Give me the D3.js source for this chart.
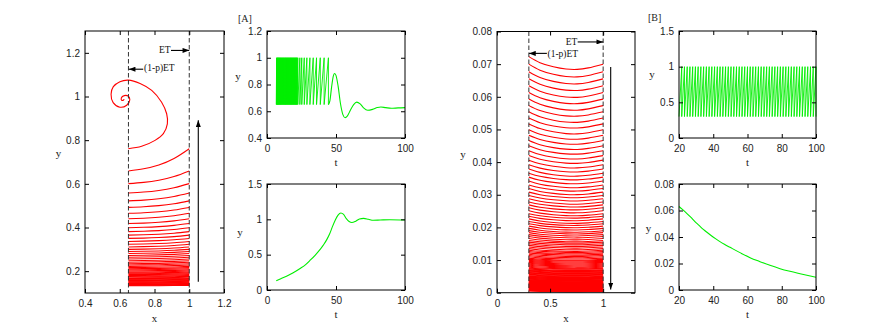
<!DOCTYPE html>
<html>
<head>
<meta charset="utf-8">
<script src="https://cdn.jsdelivr.net/npm/d3@7"></script>
<style>
  body { margin: 0; background: #fff; }
  svg { display: block; }
  .axis text { font-family: "Liberation Sans", Arial, sans-serif; font-size: 10px; fill: #222; }
  .axis line { stroke: #000; }
  .axis-title { font-family: "Liberation Serif", "Times New Roman", serif; font-size: 11px; fill: #222; }
  .note { font-family: "Liberation Serif", "Times New Roman", serif; font-size: 9.5px; fill: #111; }
</style>
</head>
<body>
<svg id="chart" width="883" height="326"></svg>
<script>
// ---- data ----

// [A] phase plane: y at each impulse boundary (arc i runs x 0.65 -> 1 from level i to level i+1)
const phaseALevels = [0.133, 0.135, 0.137, 0.139, 0.141, 0.144, 0.146, 0.149, 0.151, 0.154,
  0.157, 0.160, 0.163, 0.166, 0.169, 0.173, 0.176, 0.180, 0.184, 0.188,
  0.192, 0.196, 0.201, 0.206, 0.211, 0.216, 0.222, 0.228, 0.234, 0.241,
  0.248, 0.256, 0.264, 0.272, 0.281, 0.290, 0.300, 0.311, 0.323, 0.336,
  0.350, 0.365, 0.381, 0.399, 0.418, 0.440, 0.465, 0.492, 0.522, 0.558,
  0.601, 0.659, 0.761];
// arc profile: fraction along x, fraction of the rise
const phaseAShapeX = [0, 0.25, 0.5, 0.75, 1];
const phaseAShapeY = [0, 0.1, 0.27, 0.56, 1];
// last free trajectory into the focus
const spiralAX = [0.649, 0.726, 0.803, 0.851, 0.874, 0.870, 0.841, 0.784, 0.717, 0.649, 0.601, 0.563, 0.550, 0.562, 0.601, 0.640, 0.658, 0.648, 0.626, 0.609, 0.612, 0.622, 0.625];
const spiralAY = [0.761, 0.772, 0.799, 0.830, 0.875, 0.921, 0.974, 1.028, 1.060, 1.075, 1.068, 1.045, 1.010, 0.972, 0.951, 0.960, 0.985, 1.002, 1.004, 0.993, 0.982, 0.984, 0.988];

// [A] top: x(t) ramps up to the threshold and is reset at these times, then the damped tail
const sawALow = 0.65, sawAHigh = 1.0;
const sawATimes = [6.7, 7.0, 7.3, 7.6, 8.0, 8.3, 8.7, 9.0, 9.4, 9.8, 10.2, 10.6, 11.0, 11.4, 11.8,
  12.2, 12.6, 13.0, 13.4, 13.8, 14.2, 14.6, 15.0, 15.4, 15.8, 16.2, 16.6, 17.0, 17.4, 17.8,
  18.2, 18.6, 19.0, 19.4, 19.8, 20.2, 20.6, 21.0, 21.4, 21.8, 22.3, 23.8, 25.2, 27.0, 28.9,
  31.1, 33.5, 35.9, 38.6, 41.4, 44.5];
const tailAT = [44.5, 45.6, 46.8, 48.0, 48.9, 49.9, 51.5, 53.2, 55.0, 56.6, 58.3, 60.5, 62.8, 65.0, 67.5, 70.0, 73.0, 76.5, 80.0, 82.5, 86, 90, 95, 100];
const tailAY = [0.65, 0.68, 0.78, 0.86, 0.882, 0.87, 0.79, 0.66, 0.575, 0.552, 0.565, 0.61, 0.65, 0.668, 0.655, 0.625, 0.607, 0.614, 0.628, 0.632, 0.627, 0.622, 0.625, 0.627];

// [A] bottom: y(t)
const yAT = [6.7, 10, 14.5, 19, 24, 28, 31.5, 35, 38.5, 41, 43.5, 45.5, 47.5, 49.5, 51.5, 53.5, 55.5, 57.5, 59.5, 61.5, 64, 67, 70, 73.5, 77, 82, 89, 100];
const yAV = [0.132, 0.160, 0.198, 0.245, 0.305, 0.36, 0.425, 0.495, 0.575, 0.64, 0.72, 0.80, 0.90, 0.99, 1.06, 1.09, 1.07, 1.01, 0.97, 0.955, 0.97, 1.005, 1.013, 1.0, 0.986, 0.99, 0.995, 0.99];

// [B] phase plane: y at each impulse boundary (arc i runs x 0.3 -> 1, falling)
const phaseBLevels = [0.0723, 0.0700, 0.0677, 0.0655, 0.0634, 0.0613, 0.0593, 0.0573, 0.0554, 0.0535,
  0.0517, 0.0499, 0.0482, 0.0466, 0.0450, 0.0435, 0.0420, 0.0406, 0.0392, 0.0379,
  0.0366, 0.0354, 0.0342, 0.0330, 0.0319, 0.0308, 0.0298, 0.0288, 0.0278, 0.0269,
  0.0260, 0.0251, 0.0242, 0.0234, 0.0226, 0.0218, 0.0211, 0.0204, 0.0197, 0.0190,
  0.0184, 0.0178, 0.0172, 0.0166, 0.0160, 0.0155, 0.0150, 0.0145, 0.0140, 0.0135,
  0.0130, 0.0126, 0.0122, 0.0118, 0.0114, 0.0110, 0.0106, 0.0102, 0.0099, 0.0096,
  0.0093, 0.0090, 0.0087, 0.0084, 0.0081, 0.0078, 0.0075, 0.0073, 0.0070, 0.0068,
  0.0066, 0.0064, 0.0062, 0.0060, 0.0058, 0.0056, 0.0054, 0.0052, 0.0050, 0.0048,
  0.0047, 0.0045, 0.0044, 0.0042, 0.0041, 0.0039, 0.0038, 0.0037, 0.0035, 0.0034,
  0.0033, 0.0032, 0.0031, 0.0030, 0.0029, 0.0028, 0.0027, 0.0026, 0.0025, 0.0024,
  0.0023, 0.0022, 0.0021, 0.0020, 0.0019, 0.0018, 0.0017, 0.0016, 0.0015, 0.0014,
  0.0013, 0.0012, 0.0011, 0.0010, 0.0009, 0.0008, 0.0007, 0.0006, 0.0005, 0.0004];
// arc profile: fraction along x, weight of the drop (1 = left level, 0 = right level)
const phaseBShapeX = [0, 0.15, 0.33, 0.5, 0.65, 0.8, 1];
const phaseBShapeY = [1, 0.2, -0.35, -0.65, -0.7, -0.5, 0];

// [B] top: x(t) reset times
const sawBLow = 0.3, sawBHigh = 1.0;
const sawBTimes = [20.0, 21.6, 23.2, 24.8, 26.4, 28.0, 29.6, 31.2, 32.8, 34.4, 36.0, 37.6, 39.2, 40.8, 42.4,
  44.0, 45.6, 47.2, 48.8, 50.4, 52.0, 53.6, 55.2, 56.8, 58.4, 60.0, 61.6, 63.2, 64.8, 66.4,
  68.0, 69.6, 71.2, 72.8, 74.4, 76.0, 77.6, 79.2, 80.8, 82.4, 84.0, 85.6, 87.2, 88.8, 90.4,
  92.0, 93.6, 95.2, 96.8, 98.4, 100.0];

// [B] bottom: y(t)
const yBT = [20, 22, 24.5, 27, 29.3, 31.5, 34.2, 36.5, 39.1, 41.5, 43.9, 46.5, 49.8, 55.6, 61.5, 67.3, 73.1, 79, 84.8, 90.7, 100];
const yBV = [0.0630, 0.0608, 0.0579, 0.0548, 0.0516, 0.0490, 0.0458, 0.0434, 0.0408, 0.0386, 0.0365, 0.0345, 0.0322, 0.0282, 0.0244, 0.0214, 0.0186, 0.0161, 0.0141, 0.0123, 0.0096];

// ticks
const ticksPAx = [0.4, 0.6, 0.8, 1, 1.2], ticksPAy = [0.2, 0.4, 0.6, 0.8, 1, 1.2];
const ticksTAx = [0, 50, 100];
const ticksTA1y = [0.4, 0.6, 0.8, 1, 1.2], ticksTA2y = [0, 0.5, 1, 1.5];
const ticksPBx = [0, 0.5, 1], ticksPBy = [0, 0.01, 0.02, 0.03, 0.04, 0.05, 0.06, 0.07, 0.08];
const ticksTBx = [20, 40, 60, 80, 100];
const ticksTB1y = [0, 0.5, 1, 1.5], ticksTB2y = [0, 0.02, 0.04, 0.06, 0.08];

// ---- drawing ----
const svg = d3.select("#chart");
const RED = "#ff0000", GREEN = "#00ee00";
const fmt = d3.format("~g");

const defs = svg.append("defs");
defs.append("marker")
    .attr("id", "head")
    .attr("viewBox", "0 0 8 6")
    .attr("refX", 8).attr("refY", 3)
    .attr("markerWidth", 7).attr("markerHeight", 5)
    .attr("markerUnits", "userSpaceOnUse")
    .attr("orient", "auto")
  .append("path").attr("d", "M0,0L8,3L0,6Z").attr("fill", "#000");

function makePanel(box, xDomain, yDomain) {
    const x = d3.scaleLinear().domain(xDomain).range([box.left, box.right]);
    const y = d3.scaleLinear().domain(yDomain).range([box.bottom, box.top]);
    return { box, x, y, g: svg.append("g") };
}

// gnuplot style frame: ticks inside on all four sides
function drawFrame(p, xTicks, yTicks) {
    const { box, x, y } = p;
    const tk = 4;
    const ax = svg.append("g");
    ax.append("g").attr("class", "axis")
        .attr("transform", `translate(0,${box.bottom})`)
        .call(d3.axisBottom(x).tickValues(xTicks).tickFormat(fmt).tickSizeInner(-tk).tickSizeOuter(0).tickPadding(7));
    ax.append("g").attr("class", "axis")
        .attr("transform", `translate(0,${box.top})`)
        .call(d3.axisTop(x).tickValues(xTicks).tickFormat("").tickSizeInner(-tk).tickSizeOuter(0));
    ax.append("g").attr("class", "axis")
        .attr("transform", `translate(${box.left},0)`)
        .call(d3.axisLeft(y).tickValues(yTicks).tickFormat(fmt).tickSizeInner(-tk).tickSizeOuter(0).tickPadding(5));
    ax.append("g").attr("class", "axis")
        .attr("transform", `translate(${box.right},0)`)
        .call(d3.axisRight(y).tickValues(yTicks).tickFormat("").tickSizeInner(-tk).tickSizeOuter(0));
    ax.selectAll(".domain").remove();
    ax.append("rect")
        .attr("x", box.left).attr("y", box.top)
        .attr("width", box.right - box.left).attr("height", box.bottom - box.top)
        .attr("fill", "none").attr("stroke", "#000").attr("stroke-width", 1);
}

function title(txt, px, py, anchor) {
    svg.append("text").attr("class", "axis-title")
        .attr("x", px).attr("y", py)
        .attr("text-anchor", anchor || "middle")
        .text(txt);
}

function arrow(x1, y1, x2, y2) {
    svg.append("line")
        .attr("x1", x1).attr("y1", y1).attr("x2", x2).attr("y2", y2)
        .attr("stroke", "#000").attr("stroke-width", 1.1)
        .attr("marker-end", "url(#head)");
}

function dashed(p, xv) {
    p.g.append("line")
        .attr("x1", p.x(xv)).attr("x2", p.x(xv))
        .attr("y1", p.box.top).attr("y2", p.box.bottom)
        .attr("stroke", "#333").attr("stroke-width", 1)
        .attr("stroke-dasharray", "4.5,2.5");
}

// ramp from lo up to hi between reset times, then instant drop back to lo
function rampReset(times, lo, hi) {
    const pts = [[times[0], lo]];
    for (let i = 1; i < times.length; i++) {
        pts.push([times[i], hi], [times[i], lo]);
    }
    return pts;
}

// ===== [A] phase plane =====
const pA = makePanel({ left: 85, right: 224, top: 31, bottom: 293 }, [0.4, 1.2], [0.1, 1.3]);
const xLeftA = 0.65, xRightA = 1.0;
const arcLine = d3.line().x(d => pA.x(d[0])).y(d => pA.y(d[1])).curve(d3.curveNatural);
const arcsA = d3.range(phaseALevels.length - 1).map(i => {
    const a = phaseALevels[i], b = phaseALevels[i + 1];
    return phaseAShapeX.map((f, k) => [xLeftA + f * (xRightA - xLeftA), a + phaseAShapeY[k] * (b - a)]);
});
pA.g.selectAll("path.arc").data(arcsA).join("path")
    .attr("class", "arc")
    .attr("d", arcLine)
    .attr("fill", "none").attr("stroke", RED).attr("stroke-width", 1.1);
pA.g.append("path")
    .datum(spiralAX.map((v, i) => [v, spiralAY[i]]))
    .attr("d", d3.line().x(d => pA.x(d[0])).y(d => pA.y(d[1])).curve(d3.curveCatmullRom))
    .attr("fill", "none").attr("stroke", RED).attr("stroke-width", 1.1);
dashed(pA, xLeftA);
dashed(pA, xRightA);
drawFrame(pA, ticksPAx, ticksPAy);
title("x", 154.5, 321.5);
title("y", 58.5, 157);

svg.append("text").attr("class", "note").attr("x", pA.x(0.893)).attr("y", 52.5).attr("text-anchor", "end").text("ET");
arrow(pA.x(0.895), pA.y(1.211), pA.x(1.0), pA.y(1.211));
svg.append("text").attr("class", "note").attr("x", pA.x(0.74)).attr("y", 70.5).text("(1-p)ET");
arrow(pA.x(0.735), pA.y(1.125), pA.x(0.652), pA.y(1.125));
arrow(pA.x(1.052), pA.y(0.151), pA.x(1.052), pA.y(0.891));

// ===== [A] top: x(t) =====
const tA1 = makePanel({ left: 267, right: 405, top: 31, bottom: 138 }, [0, 100], [0.4, 1.2]);
tA1.g.append("path")
    .datum(rampReset(sawATimes, sawALow, sawAHigh))
    .attr("d", d3.line().x(d => tA1.x(d[0])).y(d => tA1.y(d[1])))
    .attr("fill", "none").attr("stroke", GREEN).attr("stroke-width", 0.9);
tA1.g.append("path")
    .datum(tailAT.map((t, i) => [t, tailAY[i]]))
    .attr("d", d3.line().x(d => tA1.x(d[0])).y(d => tA1.y(d[1])).curve(d3.curveMonotoneX))
    .attr("fill", "none").attr("stroke", GREEN).attr("stroke-width", 1.1);
drawFrame(tA1, ticksTAx, ticksTA1y);
title("y", 238, 80);
title("t", 336, 166);
svg.append("text").attr("class", "axis-title").attr("x", 238).attr("y", 22).style("font-size", "10px").text("[A]");

// ===== [A] bottom: y(t) =====
const tA2 = makePanel({ left: 267, right: 405, top: 184, bottom: 290 }, [0, 100], [0, 1.5]);
tA2.g.append("path")
    .datum(yAT.map((t, i) => [t, yAV[i]]))
    .attr("d", d3.line().x(d => tA2.x(d[0])).y(d => tA2.y(d[1])).curve(d3.curveMonotoneX))
    .attr("fill", "none").attr("stroke", GREEN).attr("stroke-width", 1.1);
drawFrame(tA2, ticksTAx, ticksTA2y);
title("y", 240, 236);
title("t", 336, 318);

// ===== [B] phase plane =====
const pB = makePanel({ left: 497, right: 635, top: 31.5, bottom: 292.7 }, [0, 1.3], [0, 0.08]);
const xLeftB = 0.3, xRightB = 1.0;
const arcLineB = d3.line().x(d => pB.x(d[0])).y(d => pB.y(d[1])).curve(d3.curveNatural);
const arcsB = d3.range(phaseBLevels.length - 1).map(i => {
    const a = phaseBLevels[i], b = phaseBLevels[i + 1];
    return phaseBShapeX.map((f, k) => [xLeftB + f * (xRightB - xLeftB), b + phaseBShapeY[k] * (a - b)]);
});
pB.g.selectAll("path.arc").data(arcsB).join("path")
    .attr("class", "arc")
    .attr("d", arcLineB)
    .attr("fill", "none").attr("stroke", RED).attr("stroke-width", 1.1);
dashed(pB, xLeftB);
dashed(pB, xRightB);
drawFrame(pB, ticksPBx, ticksPBy);
title("x", 566, 321.5);
title("y", 463, 158);

svg.append("text").attr("class", "note").attr("x", pB.x(0.757)).attr("y", 45).attr("text-anchor", "end").text("ET");
arrow(pB.x(0.76), pB.y(0.0768), pB.x(1.0), pB.y(0.0768));
svg.append("text").attr("class", "note").attr("x", pB.x(0.476)).attr("y", 56.5).text("(1-p)ET");
arrow(pB.x(0.47), pB.y(0.0733), pB.x(0.302), pB.y(0.0733));
arrow(pB.x(1.071), pB.y(0.0691), pB.x(1.071), pB.y(0.001));

// ===== [B] top: x(t) =====
const tB1 = makePanel({ left: 679, right: 816, top: 31, bottom: 138 }, [20, 100], [0, 1.5]);
tB1.g.append("path")
    .datum(rampReset(sawBTimes, sawBLow, sawBHigh))
    .attr("d", d3.line().x(d => tB1.x(d[0])).y(d => tB1.y(d[1])))
    .attr("fill", "none").attr("stroke", GREEN).attr("stroke-width", 0.9);
drawFrame(tB1, ticksTBx, ticksTB1y);
title("y", 652, 78);
title("t", 747.5, 166);
svg.append("text").attr("class", "axis-title").attr("x", 648).attr("y", 21).style("font-size", "10px").text("[B]");

// ===== [B] bottom: y(t) =====
const tB2 = makePanel({ left: 679, right: 816, top: 184, bottom: 290 }, [20, 100], [0, 0.08]);
tB2.g.append("path")
    .datum(yBT.map((t, i) => [t, yBV[i]]))
    .attr("d", d3.line().x(d => tB2.x(d[0])).y(d => tB2.y(d[1])).curve(d3.curveMonotoneX))
    .attr("fill", "none").attr("stroke", GREEN).attr("stroke-width", 1.1);
drawFrame(tB2, ticksTBx, ticksTB2y);
title("y", 648.5, 232);
title("t", 747.5, 318);
</script>
</body>
</html>
